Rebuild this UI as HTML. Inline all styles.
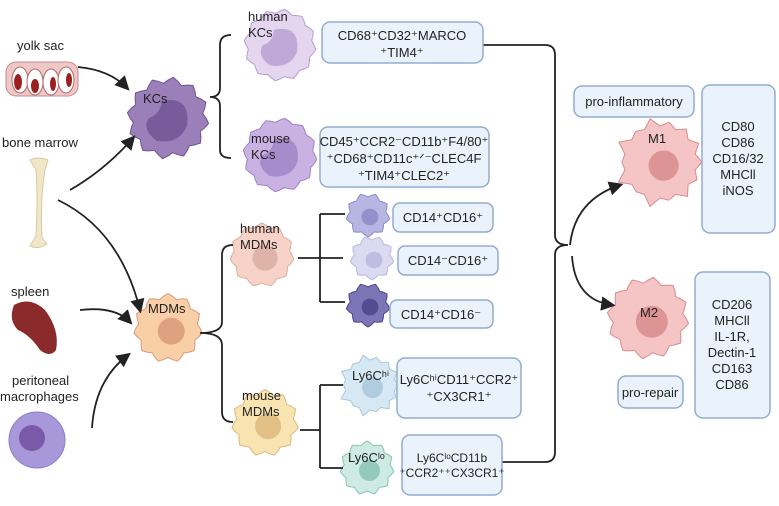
<!DOCTYPE html>
<html><head><meta charset="utf-8"><style>
html,body{margin:0;padding:0;background:#fff;}
svg{display:block;font-family:"Liberation Sans",Arial,sans-serif;}
.b{fill:#eaf3fb;stroke:#93acd2;stroke-width:1.5;}
.t{font-size:13px;fill:#222;text-anchor:middle;}
.l{font-size:13px;fill:#222;}
.ln{fill:none;stroke:#222;stroke-width:1.8;}
</style></head><body>
<svg id="s" width="779" height="506" viewBox="0 0 779 506" xmlns="http://www.w3.org/2000/svg">
<defs><marker id="a" markerWidth="8" markerHeight="8" refX="6" refY="4" orient="auto"><path d="M0,0 L8,4 L0,8 z" fill="#222"/></marker></defs>
<g id="cells"></g>
<text class="l" x="17" y="50">yolk sac</text>
<g>
<rect x="6" y="62" width="72" height="34" rx="10" fill="#efc7c7" stroke="#c98a8a"/>
<ellipse cx="20" cy="80" rx="8" ry="13" fill="#fff" stroke="#b46a6a"/><ellipse cx="18" cy="82" rx="4" ry="8" fill="#9c2020"/>
<ellipse cx="35" cy="82" rx="8" ry="13" fill="#fff" stroke="#b46a6a"/><ellipse cx="35" cy="86" rx="4" ry="7" fill="#9c2020"/>
<ellipse cx="51" cy="82" rx="8" ry="13" fill="#fff" stroke="#b46a6a"/><ellipse cx="53" cy="84" rx="3" ry="7" fill="#9c2020"/>
<ellipse cx="66" cy="80" rx="8" ry="13" fill="#fff" stroke="#b46a6a"/><ellipse cx="69" cy="80" rx="3" ry="7" fill="#9c2020"/>
</g>
<text class="l" x="2" y="147">bone marrow</text>
<path d="M30,160 Q38,156 48,160 L45,170 Q40,200 42,238 L47,244 Q38,250 30,246 L36,236 Q38,200 36,170 Z" fill="#f1e6c8" stroke="#d8c9a0"/>
<text class="l" x="11" y="296">spleen</text>
<path d="M14,305 Q30,296 45,310 Q60,330 56,350 Q50,358 40,350 Q30,335 18,330 Q8,320 14,305Z" fill="#8b2a2a"/>
<text class="l" x="12" y="385">peritoneal</text>
<text class="l" x="0" y="401">macrophages</text>
<circle cx="37" cy="440" r="28" fill="#a898da" stroke="#8c7cc6"/><circle cx="32" cy="438" r="13" fill="#7a59a8"/>
<g class="ln" marker-end="url(#a)">
<path d="M78,67 Q110,70 127,88"/>
<path d="M70,190 Q105,170 133,138"/>
<path d="M58,200 Q120,230 140,310"/>
<path d="M80,310 Q115,306 130,322"/>
<path d="M92,428 Q95,380 128,355"/>
<path d="M570,245 Q575,200 620,185"/>
<path d="M572,256 Q575,300 612,305"/>
</g>
<g class="ln">
<path d="M231,35 Q220,35 220,45 L220,88 Q220,97 210,97 Q220,97 220,106 L220,150 Q220,158 231,158"/>
<path d="M233,245 Q222,245 222,255 L222,322 Q222,333 200,333 Q222,333 222,345 L222,412 Q222,422 233,422"/>
<path d="M298,258 L343,258 M320,214 L320,302 M320,214 L345,214 M320,302 L345,302"/>
<path d="M300,430 L320,430 M320,385 L320,468 M320,385 L343,385 M320,468 L343,468"/>
<path d="M483,45 L545,45 Q555,45 555,55 L555,235 Q555,245 568,245 Q555,245 555,255 L555,452 Q555,462 545,462 L502,462"/>
</g>
<rect class="b" x="322" y="22" width="161" height="41" rx="8"/>
<text class="t" x="402" y="40">CD68⁺CD32⁺MARCO</text><text class="t" x="402" y="57">⁺TIM4⁺</text>
<rect class="b" x="320" y="127" width="169" height="60" rx="8"/>
<text class="t" x="404" y="146">CD45⁺CCR2⁻CD11b⁺F4/80⁺</text><text class="t" x="404" y="163">⁺CD68⁺CD11c⁺ᐟ⁻CLEC4F</text><text class="t" x="404" y="180">⁺TIM4⁺CLEC2⁺</text>
<rect class="b" x="393" y="203" width="100" height="29" rx="7"/>
<text class="t" x="443" y="222">CD14⁺CD16⁺</text>
<rect class="b" x="398" y="246" width="100" height="29" rx="7"/>
<text class="t" x="448" y="265">CD14⁻CD16⁺</text>
<rect class="b" x="390" y="300" width="103" height="28" rx="7"/>
<text class="t" x="441" y="319">CD14⁺CD16⁻</text>
<rect class="b" x="397" y="358" width="124" height="60" rx="8"/>
<text class="t" x="459" y="384">Ly6CʰⁱCD11⁺CCR2⁺</text><text class="t" x="459" y="401">⁺CX3CR1⁺</text>
<rect class="b" x="402" y="435" width="100" height="60" rx="8"/>
<text class="t" x="452" y="462" style="font-size:12px">Ly6CˡᵒCD11b</text><text class="t" x="452" y="477" style="font-size:12px">⁺CCR2⁺⁺CX3CR1⁺</text>
<rect class="b" x="574" y="86" width="120" height="31" rx="8"/>
<text class="t" x="634" y="106">pro-inflammatory</text>
<rect class="b" x="702" y="85" width="73" height="148" rx="8"/>
<text class="t" x="738" y="131">CD80</text><text class="t" x="738" y="147">CD86</text><text class="t" x="738" y="163">CD16/32</text><text class="t" x="738" y="179">MHCll</text><text class="t" x="738" y="195">iNOS</text>
<rect class="b" x="695" y="272" width="75" height="146" rx="8"/>
<text class="t" x="732" y="309">CD206</text><text class="t" x="732" y="325">MHCll</text><text class="t" x="732" y="341">IL-1R,</text><text class="t" x="732" y="357">Dectin-1</text><text class="t" x="732" y="373">CD163</text><text class="t" x="732" y="389">CD86</text>
<rect class="b" x="618" y="376" width="65" height="32" rx="8"/>
<text class="t" x="650" y="397">pro-repair</text>
<g id="labels">
<text class="l" x="143" y="103">KCs</text>
<text class="l" x="248" y="21">human</text><text class="l" x="248" y="37">KCs</text>
<text class="l" x="251" y="143">mouse</text><text class="l" x="251" y="159">KCs</text>
<text class="l" x="240" y="233">human</text><text class="l" x="240" y="249">MDMs</text>
<text class="l" x="148" y="313">MDMs</text>
<text class="l" x="242" y="400">mouse</text><text class="l" x="242" y="416">MDMs</text>
<text class="l" x="352" y="380">Ly6Cʰⁱ</text>
<text class="l" x="348" y="462">Ly6Cˡᵒ</text>
<text class="l" x="648" y="143">M1</text>
<text class="l" x="640" y="317">M2</text>
</g>
</svg>
<script>
function blob(cx,cy,r,n,amp){var d="";for(var i=0;i<=n*4;i++){var a=i/(n*4)*Math.PI*2;var rr=r+amp*Math.sin(a*n);d+=(i?"L":"M")+(cx+rr*Math.cos(a)).toFixed(1)+","+(cy+rr*Math.sin(a)).toFixed(1);}return d+"Z";}
function spiky(cx,cy,r,n,len){var d="";for(var i=0;i<n*2;i++){var a=i/(n*2)*Math.PI*2;var rr=i%2?r:r+len*(0.6+0.4*Math.sin(i*1.7));d+=(i?"L":"M")+(cx+rr*Math.cos(a)).toFixed(1)+","+(cy+rr*Math.sin(a)).toFixed(1);}return d+"Z";}
var cells=[
[168,118,38,12,3,"#9a7fb8","#6f5293",0,1],
[280,45,34,12,2,"#e3d6ee","#b69dcf",0,1],
[280,155,35,12,2,"#c9b2e2","#9f82c6",0,1],
[262,255,30,11,2,"#f6d3c6","#d9aea3",0,0],
[168,328,32,11,2.5,"#f8cfa6","#d99a7d",0,0],
[265,423,31,11,2.5,"#f7e4b0","#ddb87e",0,0],
[368,215,20,9,2,"#b7b6e3","#8d8bc9",0,0],
[372,258,20,9,2,"#dcdaf0","#bab7df",0,0],
[368,305,20,9,2,"#7c76b8","#4c4588",0,0],
[370,385,25,14,1,"#d6e8f3","#a9c7da",1,0],
[367,468,25,11,2,"#cdebe3","#8ac4b5",0,0],
[660,162,36,14,3,"#f5c4c4","#d88c8c",1,0],
[648,318,38,12,3,"#f5c4c4","#d88c8c",0,0]];
var g=document.getElementById("cells"),s="";
cells.forEach(function(c){var d=c[7]?spiky(c[0],c[1],c[2],c[3],c[2]*0.28):blob(c[0],c[1],c[2],c[3],c[4]);
s+='<path d="'+d+'" fill="'+c[5]+'" stroke="'+c[6]+'" stroke-width="1"/>';
if(c[8]){s+='<path d="M'+(c[0]-6)+','+(c[1]-c[2]*0.45)+' Q'+(c[0]+c[2]*0.6)+','+(c[1]-c[2]*0.6)+' '+(c[0]+c[2]*0.5)+','+(c[1]+c[2]*0.2)+' Q'+(c[0]+c[2]*0.3)+','+(c[1]+c[2]*0.7)+' '+(c[0]-c[2]*0.3)+','+(c[1]+c[2]*0.6)+' Q'+(c[0]-c[2]*0.7)+','+(c[1]+c[2]*0.3)+' '+(c[0]-c[2]*0.5)+','+(c[1])+' Q'+(c[0]-c[2]*0.2)+','+(c[1]-c[2]*0.1)+' '+(c[0]-6)+','+(c[1]-c[2]*0.45)+'Z" fill="'+c[6]+'" opacity="0.8"/>';}
else{s+='<circle cx="'+(c[0]+c[2]*0.1)+'" cy="'+(c[1]+c[2]*0.1)+'" r="'+(c[2]*0.42)+'" fill="'+c[6]+'" opacity="0.85"/>';}
});
g.innerHTML=s;
</script>
</body></html>
